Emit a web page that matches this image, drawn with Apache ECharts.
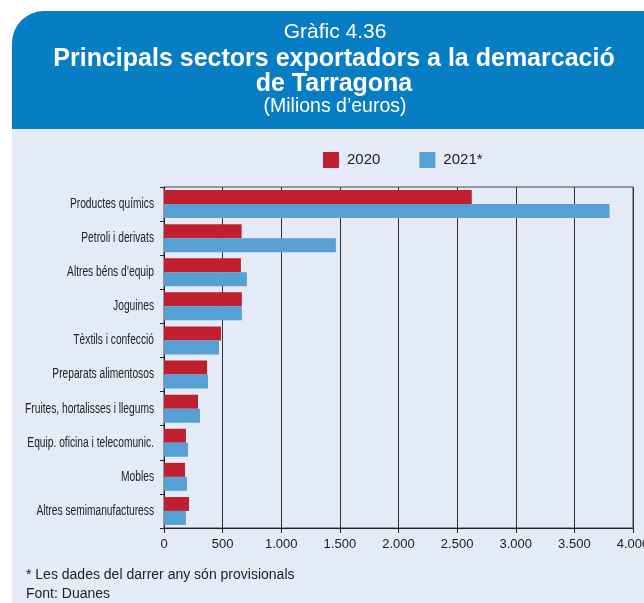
<!DOCTYPE html>
<html><head><meta charset="utf-8">
<script src="https://cdn.jsdelivr.net/npm/echarts@6/dist/echarts.min.js"></script>
<style>html,body{margin:0;padding:0;background:#fff}#c{width:644px;height:603px}</style>
</head><body><div id="c"></div>
<script>
const categories = ["Productes químics","Petroli i derivats","Altres béns d’equip","Joguines","Tèxtils i confecció","Preparats alimentosos","Fruites, hortalisses i llegums","Equip. oficina i telecomunic.","Mobles","Altres semimanufacturess"];
const values2020 = [2625, 662, 656, 664, 486, 367, 290, 187, 179, 213];
const values2021 = [3800, 1466, 707, 664, 469, 375, 307, 205, 196, 187];
const seriesNames = ["2020", "2021*"];
const xTicks = [0, 500, 1000, 1500, 2000, 2500, 3000, 3500, 4000];

const sans = '"Liberation Sans",Arial,sans-serif';
const chart = echarts.init(document.getElementById('c'), null, {renderer:'canvas'});
const baseGraphic = [
  {type:'rect', z:-10, shape:{x:12,y:120,width:632,height:483}, style:{fill:'#e4eaf6'}},
  {type:'rect', z:-9, shape:{x:12,y:11,width:632,height:118,r:[32,0,0,0]}, style:{fill:'#077dc3'}},
  {type:'text', x:335, y:43, style:{text:'Gràfic 4.36', fill:'#fff', font:'21px '+sans, align:'center', verticalAlign:'bottom'}},
  {type:'text', x:334, y:72, style:{text:'Principals sectors exportadors a la demarcació', fill:'#fff', font:'bold 25px '+sans, align:'center', verticalAlign:'bottom'}},
  {type:'text', x:334, y:97, style:{text:'de Tarragona', fill:'#fff', font:'bold 25px '+sans, align:'center', verticalAlign:'bottom'}},
  {type:'text', x:335, y:117, style:{text:'(Milions d’euros)', fill:'#fff', font:'19.5px '+sans, align:'center', verticalAlign:'bottom'}},
  {type:'text', x:26, y:582, style:{text:'* Les dades del darrer any són provisionals', fill:'#222', font:'14px '+sans, verticalAlign:'bottom'}},
  {type:'text', x:26, y:601, style:{text:'Font: Duanes', fill:'#222', font:'14px '+sans, verticalAlign:'bottom'}}
];
chart.setOption({
  animation:false,
  backgroundColor:'#ffffff',
  graphic:baseGraphic,
  legend:{
    top:152, left:323, itemWidth:16, itemHeight:16, itemGap:39, padding:0,
    icon:'rect',
    textStyle:{fontFamily:sans, fontSize:15, color:'#222', padding:[0,0,0,3]},
    data:seriesNames
  },
  grid:{left:164, right:11, top:187, bottom:75, containLabel:false, outerBoundsMode:'none', show:true, borderColor:'#444', borderWidth:1, backgroundColor:'transparent'},
  xAxis:{
    type:'value', min:0, max:4000, interval:500,
    axisLine:{show:true, lineStyle:{color:'#222'}},
    axisTick:{show:true, length:5, lineStyle:{color:'#222'}},
    splitLine:{show:true, lineStyle:{color:'#333', width:1}},
    axisLabel:{fontFamily:sans, fontSize:13, color:'#222', margin:10,
      formatter:function(v){return v.toString().replace(/\B(?=(\d{3})+(?!\d))/g,'.');}}
  },
  yAxis:{
    type:'category', data:categories, inverse:true,
    axisLine:{show:true, lineStyle:{color:'#222'}},
    axisTick:{show:true, length:4, lineStyle:{color:'#222'}},
    axisLabel:{show:false}
  },
  series:[
    {name:seriesNames[0], type:'bar', data:values2020, barGap:'0%', barCategoryGap:'18%', itemStyle:{color:'#c01f2f'}},
    {name:seriesNames[1], type:'bar', data:values2021, barGap:'0%', barCategoryGap:'18%', itemStyle:{color:'#56a0d3'}}
  ]
});
// condensed category labels, positioned through the y axis scale
const labelGraphics = categories.map(function(cat){
  const py = chart.convertToPixel({yAxisIndex:0}, cat);
  return {type:'text', x:154, y:py, scaleX:0.73, z:5,
    style:{text:cat, fill:'#222', font:'14px '+sans, align:'right', verticalAlign:'middle'}};
});
chart.setOption({graphic:baseGraphic.concat(labelGraphics)});
</script></body></html>
